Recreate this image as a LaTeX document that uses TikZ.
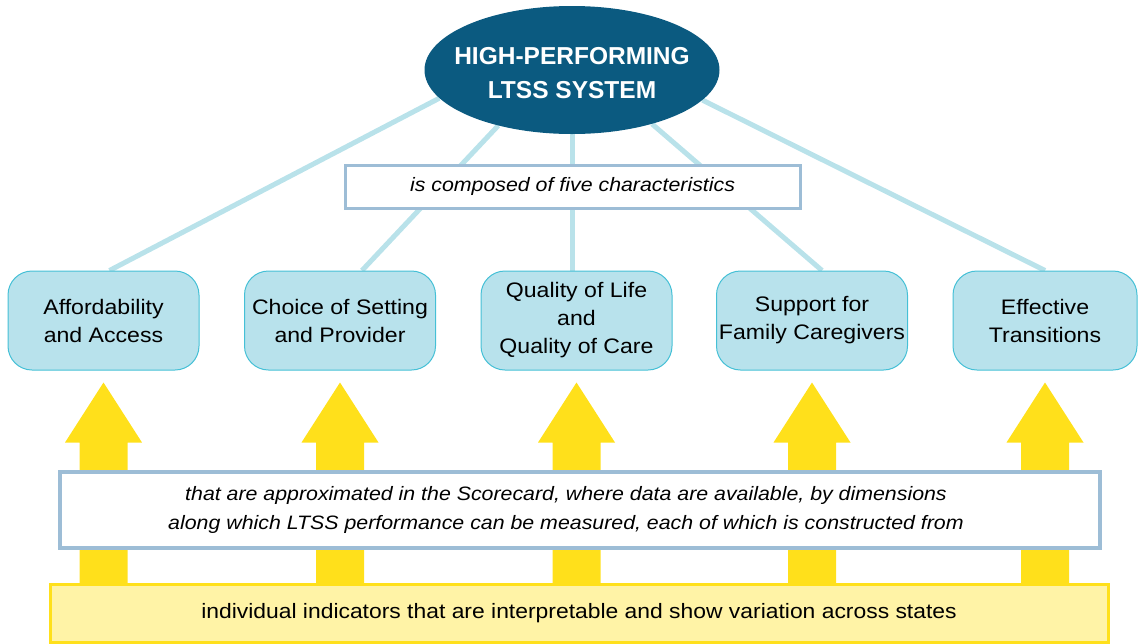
\documentclass[tikz,border=0pt]{standalone}
\usepackage{fontspec}
\setmainfont{Liberation Sans}
\newfontfamily\bodyfont{Liberation Sans}[FakeStretch=1.1]
\usetikzlibrary{backgrounds,shapes.geometric,calc}
\definecolor{ellblue}{HTML}{0B5A80}
\definecolor{linkblue}{HTML}{B9E2EA}
\definecolor{boxfill}{HTML}{B8E2EC}
\definecolor{boxline}{HTML}{45C0D6}
\definecolor{frameblue}{HTML}{9DBDD6}
\definecolor{arrowyel}{HTML}{FFE01B}
\definecolor{paleyel}{HTML}{FFF3A6}
\begin{document}
\begin{tikzpicture}[x=1pt,y=-1pt,
  charbox/.style={draw=boxline, line width=1pt, fill=boxfill, rounded corners=24pt,
    minimum width=191pt, minimum height=99pt, inner sep=0pt, align=center,
    font=\bodyfont\fontsize{21}{28}\selectfont},
  link/.style={draw=linkblue, line width=5pt},
  framebox/.style={draw=frameblue, fill=white, inner sep=0pt, align=center,
    font=\bodyfont\itshape\fontsize{19.4}{29}\selectfont}]
\useasboundingbox (0,0) rectangle (1138,643);
% top ellipse
\node[ellipse, fill=ellblue, minimum width=295pt, minimum height=128pt, inner sep=0pt] (top) at (572,70) {};
\node[text=white, align=center, font=\bfseries\fontsize{24.5}{34}\selectfont] (toptext) at (572,73.5) {HIGH-PERFORMING\\LTSS SYSTEM};
% characteristic boxes
\node[charbox] (b1) at (103.5,320.5) {Affordability\\and Access};
\node[charbox] (b2) at (340,320.5) {Choice of Setting\\and Provider};
\node[charbox] (b3) at (576.5,320.5) {Quality of Life\\and\\Quality of Care};
\node[charbox] (b4) at (812,320.5) {Support for\\Family Caregivers};
\node[charbox, minimum width=184pt] (b5) at (1045,320.5) {Effective\\Transitions};
% composed box
\node[framebox, line width=3pt, minimum width=455pt, minimum height=43pt] (comp) at (572.5,186.5) {is composed of five characteristics};
% links
\begin{scope}[on background layer]
\draw[link] (top.192) -- ([xshift=6pt]b1.north);
\draw[link] (top.217) -- ([xshift=22pt]b2.north);
\draw[link] (top.south) -- (top.south |- b3.north);
\draw[link] (top.326.5) -- ([xshift=10pt]b4.north);
\draw[link] (top.347) -- ([xshift=0pt]b5.north);
\end{scope}
% arrows
\foreach \b in {b1,b2,b3,b4,b5}{
  \fill[arrowyel] ($(\b.south)+(-24,220)$) -- ($(\b.south)+(-24,72)$) -- ($(\b.south)+(-38.5,72)$)
    -- ($(\b.south)+(0,12)$) -- ($(\b.south)+(38.5,72)$) -- ($(\b.south)+(24,72)$)
    -- ($(\b.south)+(24,220)$) -- cycle;
}
% dimensions box
\node[framebox, line width=4pt, minimum width=1040pt, minimum height=76pt] (dims) at (580,510) {};
\node[align=center, inner sep=0pt, font=\bodyfont\itshape\fontsize{19.4}{29}\selectfont] (dimstext) at (566,510)
  {that are approximated in the Scorecard, where data are available, by dimensions\\
   along which LTSS performance can be measured, each of which is constructed from};
% indicators box
\node[draw=arrowyel, fill=paleyel, line width=3pt, minimum width=1058pt, minimum height=58pt, inner sep=0pt,
  font=\bodyfont\fontsize{20.8}{24}\selectfont] (ind) at (579,613)
  {individual indicators that are interpretable and show variation across states};
\end{tikzpicture}
\end{document}
